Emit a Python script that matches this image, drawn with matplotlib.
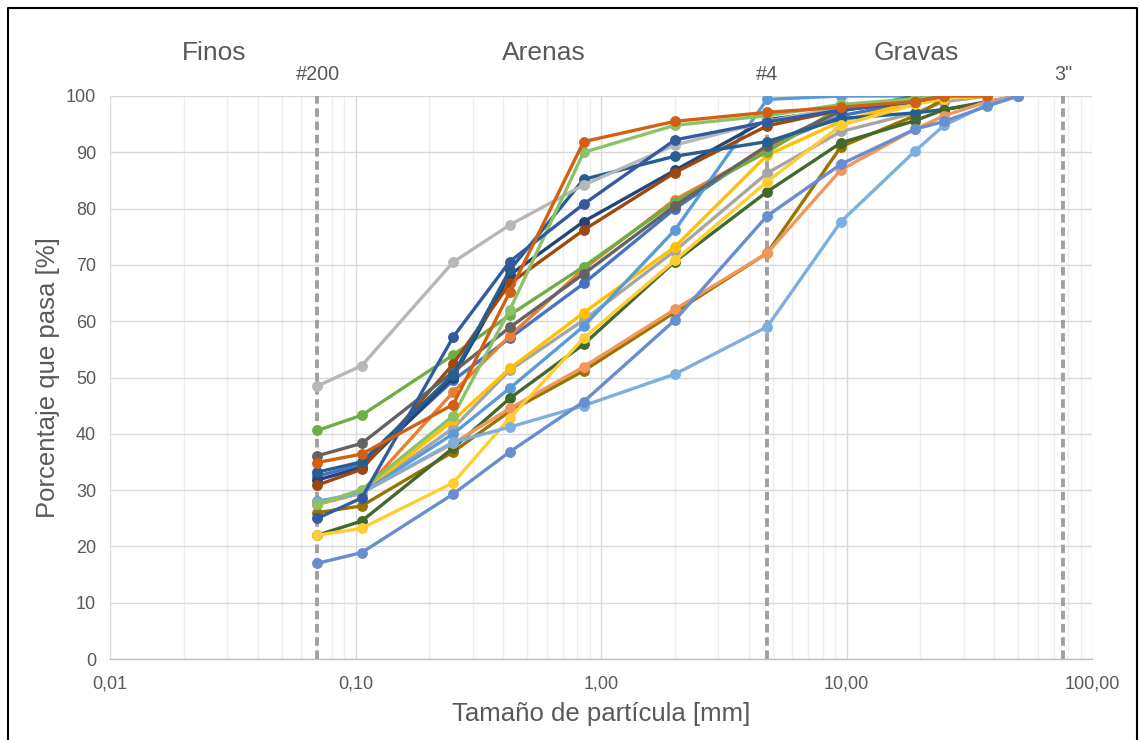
import numpy as np
import matplotlib
matplotlib.use("Agg")
import matplotlib.pyplot as plt
from matplotlib.ticker import FixedLocator, FuncFormatter, LogLocator, NullFormatter
from matplotlib.lines import Line2D
import matplotlib.transforms as mtransforms

plt.rcParams['font.family'] = ['Liberation Sans', 'DejaVu Sans']

nan = np.nan

# tamaños de tamiz [mm]
sizes = [0.07, 0.106, 0.25, 0.425, 0.85, 2.0, 4.75, 9.5, 19.0, 25.0, 37.5, 50.0]

# porcentaje que pasa, una lista por muestra
s01 = [32.5, 34.5, 49.5, 57.0, 66.7, 80.0, 91.0, 96.5, 99.0, 100.0, nan, nan]
s02 = [27.5, 29.5, 47.4, 57.4, 69.3, 81.6, 90.5, 97.5, 99.0, 100.0, nan, nan]
s03 = [27.5, 29.5, 41.0, 51.3, 60.2, 72.5, 86.3, 93.7, 97.0, 99.0, 100.0, nan]
s04 = [27.5, 29.5, 42.4, 51.6, 61.5, 73.2, 89.5, 95.5, 99.0, 100.0, nan, nan]
s05 = [28.0, 29.5, 40.0, 48.1, 59.1, 76.2, 99.4, 100.0, 100.0, nan, nan, nan]
s06 = [40.6, 43.3, 54.0, 61.1, 69.7, 81.2, 90.1, 98.0, 99.0, 100.0, nan, nan]
s07 = [31.8, 34.0, 50.0, 68.2, 77.7, 86.8, 95.8, 97.5, 99.0, 100.0, nan, nan]
s08 = [30.9, 33.7, 52.4, 66.7, 76.2, 86.4, 94.7, 97.5, 99.5, 100.0, nan, nan]
s09 = [36.1, 38.3, 51.0, 58.9, 68.4, 80.5, 91.2, 97.3, 100.0, 100.0, nan, nan]
s10 = [26.0, 27.2, 36.8, 44.0, 51.2, 61.6, 72.1, 91.0, 96.5, 99.5, 100.0, nan]
s11 = [33.2, 35.0, 50.5, 69.1, 85.2, 89.3, 91.9, 96.0, 97.0, 97.6, 99.0, 100.0]
s12 = [22.0, 24.5, 37.5, 46.3, 55.9, 70.6, 83.0, 91.7, 95.6, 97.6, 98.8, 100.0]
s13 = [17.0, 18.9, 29.3, 36.8, 45.7, 60.2, 78.7, 87.9, 94.1, 95.5, 98.2, 100.0]
s14 = [27.5, 29.5, 38.3, 44.5, 51.9, 62.1, 72.1, 86.9, 94.1, 96.5, 99.0, 100.0]
s15 = [48.5, 52.1, 70.5, 77.1, 84.2, 91.3, 95.5, 98.0, 99.5, 100.0, nan, nan]
s16 = [22.0, 23.2, 31.3, 42.8, 57.0, 70.8, 84.8, 94.8, 98.5, 99.5, 100.0, nan]
s17 = [27.8, 29.5, 38.5, 41.2, 45.0, 50.6, 59.0, 77.7, 90.2, 94.8, 98.5, 100.0]
s18 = [27.5, 30.1, 43.2, 62.0, 90.0, 94.8, 96.5, 98.5, 99.5, 100.0, nan, nan]
s19 = [25.0, 28.6, 57.2, 70.6, 80.8, 92.2, 95.4, 97.5, 99.0, 100.0, nan, nan]
s20 = [34.9, 36.4, 45.2, 65.2, 91.9, 95.5, 97.1, 98.0, 99.0, 100.0, 100.0, nan]

series = [s01, s02, s03, s04, s05, s06, s07, s08, s09, s10,
          s11, s12, s13, s14, s15, s16, s17, s18, s19, s20]
colors = ['#4472C4', '#ED7D31', '#A5A5A5', '#FFC000', '#5B9BD5', '#70AD47',
          '#264478', '#9E480E', '#636363', '#997300', '#255E91', '#43682B',
          '#698ED0', '#F1975A', '#B7B7B7', '#FFCD33', '#7CAFDD', '#8CC168',
          '#335AA1', '#D26012']

# limites granulometricos
sieve_x = [0.07, 4.75, 76.2]
sieve_labels = ['#200', '#4', '3"']
zone_x = [0.0265, 0.586, 19.2]
zone_labels = ['Finos', 'Arenas', 'Gravas']

fig = plt.figure(figsize=(11.4, 7.4), dpi=100)
ax = fig.add_axes([110/1140, 1 - 659/740, (1092 - 110)/1140, (659 - 96)/740])

for i, (vals, c) in enumerate(zip(series, colors)):
    z = 3.5 if c == '#698ED0' else 3
    ax.plot(sizes, vals, color=c, lw=2.4, marker='o', ms=6.8, mec=c, mfc=c,
            solid_capstyle='round', zorder=z)

for sx in sieve_x:
    ax.plot([sx, sx], [0, 100], color='#A0A0A0', lw=2.8, ls=(0, (2.2, 1.2)), zorder=2)

ax.set_xscale('log')
ax.set_xlim(0.01, 100)
ax.set_ylim(0, 100)
ax.set_yticks(np.arange(0, 101, 10))
ax.xaxis.set_major_locator(FixedLocator([0.01, 0.1, 1, 10, 100]))
ax.xaxis.set_minor_locator(LogLocator(base=10, subs=np.arange(2, 10)))
ax.xaxis.set_minor_formatter(NullFormatter())
ax.xaxis.set_major_formatter(FuncFormatter(lambda v, p: ('%.2f' % v).replace('.', ',')))

ax.grid(True, which='major', color='#D9D9D9', lw=1.0, zorder=0)
ax.grid(True, which='minor', axis='x', color='#EEEEEE', lw=1.0, zorder=0)
ax.set_axisbelow(True)
for s in ['top', 'right', 'left']:
    ax.spines[s].set_visible(False)
ax.spines['bottom'].set_color('#BFBFBF')
ax.spines['bottom'].set_linewidth(1.0)
ax.tick_params(which='both', length=0, colors='#595959', labelsize=13)
ax.tick_params(axis='x', pad=12)
ax.tick_params(axis='y', pad=10)

ax.set_xlabel('Tamaño de partícula [mm]', fontsize=18.5, color='#595959', labelpad=7)
ax.set_ylabel('Porcentaje que pasa [%]', fontsize=18.5, color='#595959', labelpad=4)

trans = mtransforms.blended_transform_factory(ax.transData, ax.transAxes)
for zx, zl in zip(zone_x, zone_labels):
    ax.text(zx, 1.076, zl, transform=trans, ha='center', va='center',
            fontsize=19, color='#595959')
for sx, sl in zip(sieve_x, sieve_labels):
    ax.text(sx, 1.038, sl, transform=trans, ha='center', va='center',
            fontsize=14.3, color='#595959')

# marco exterior
fig.add_artist(Line2D([8/1140, 8/1140, 1137/1140, 1137/1140],
                      [-0.01, 1 - 8/740, 1 - 8/740, -0.01],
                      transform=fig.transFigure, color='black', lw=1.5))

fig.savefig('out.png', dpi=100)
